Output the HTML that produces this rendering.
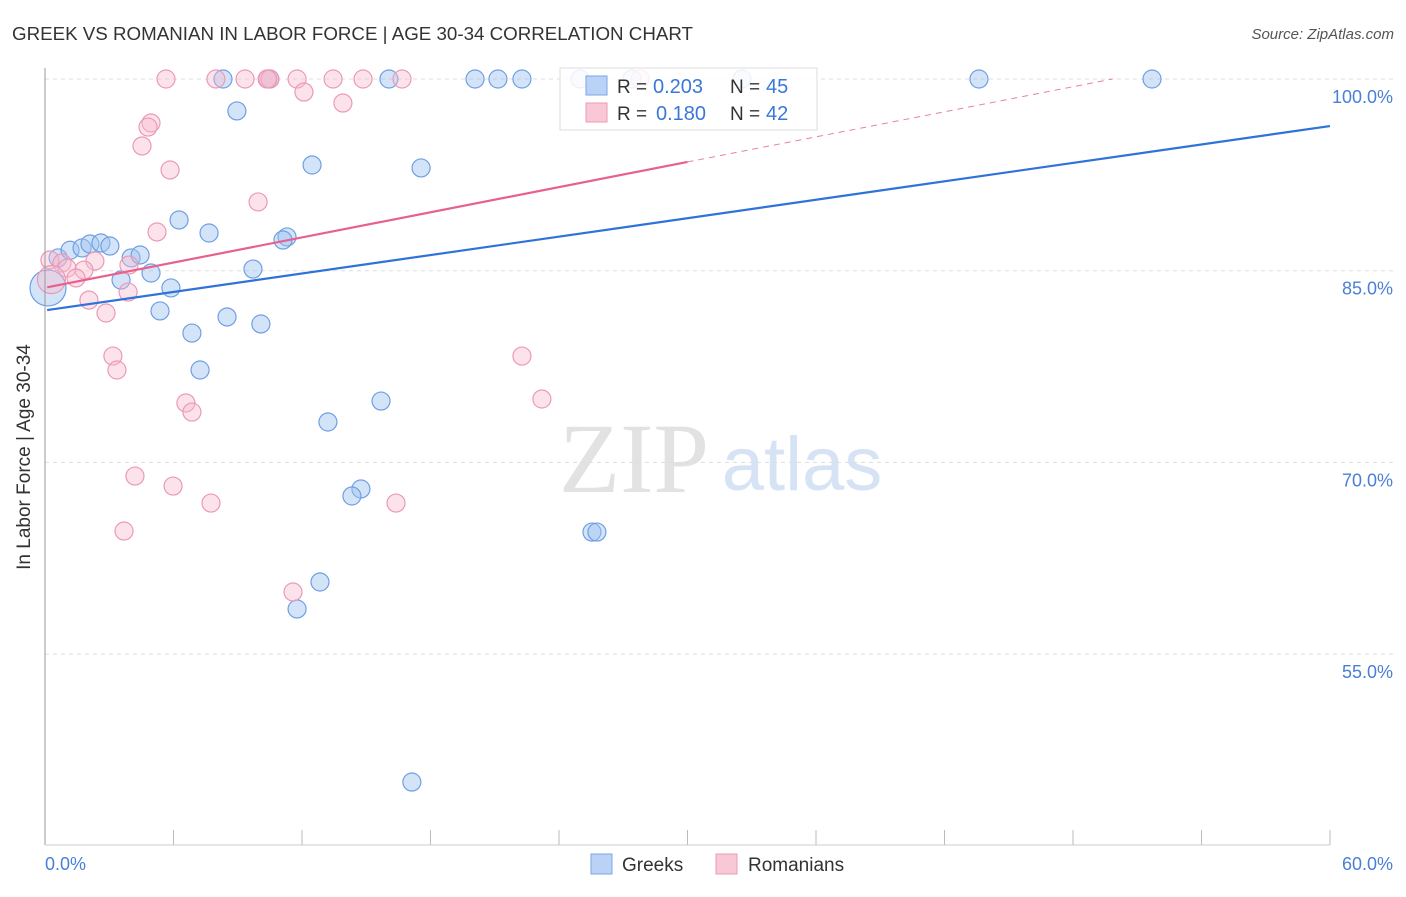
<!DOCTYPE html>
<html><head><meta charset="utf-8"><style>
body{margin:0;background:#fff;font-family:"Liberation Sans",sans-serif}
</style></head><body>
<svg id="c" width="1406" height="892" xmlns="http://www.w3.org/2000/svg" style="font-family:'Liberation Sans',sans-serif">
<text x="12" y="40" font-size="18" fill="#333" textLength="681" lengthAdjust="spacingAndGlyphs">GREEK VS ROMANIAN IN LABOR FORCE | AGE 30-34 CORRELATION CHART</text>
<text x="1394" y="39" font-size="15" fill="#555" text-anchor="end" font-style="italic">Source: ZipAtlas.com</text>
<text x="634" y="492" font-size="100" fill="#e2e2e2" font-family="Liberation Serif,serif" text-anchor="middle">ZIP</text>
<text x="802" y="490" font-size="76" fill="#d6e3f5" text-anchor="middle">atlas</text>
<g id="grid"></g><g id="pts"></g><g id="lines"></g>
<line x1="45" y1="68" x2="45" y2="845" stroke="#999"/>
<line x1="45" y1="845" x2="1330" y2="845" stroke="#ccc"/>
<text x="30" y="457" font-size="19" fill="#333" text-anchor="middle" transform="rotate(-90 30 457)">In Labor Force | Age 30-34</text>
<text x="45" y="870" font-size="18" fill="#4a7fd6">0.0%</text>
<text x="1393" y="870" font-size="18" fill="#4a7fd6" text-anchor="end">60.0%</text>
<g>
<rect x="560" y="68" width="257" height="62" fill="rgba(255,255,255,0.85)" stroke="#ddd"/>
<rect x="586" y="76" width="21" height="19" fill="#b9d2f5" stroke="#7aa6e6"/>
<text x="617" y="93" font-size="19" fill="#333">R = </text><text x="653" y="93" font-size="20" fill="#3a78d8">0.203</text>
<text x="730" y="93" font-size="19" fill="#333">N = </text><text x="766" y="93" font-size="20" fill="#3a78d8">45</text>
<rect x="586" y="103" width="21" height="19" fill="#f9c8d7" stroke="#ec9ab5"/>
<text x="617" y="120" font-size="19" fill="#333">R = </text><text x="656" y="120" font-size="20" fill="#3a78d8">0.180</text>
<text x="730" y="120" font-size="19" fill="#333">N = </text><text x="766" y="120" font-size="20" fill="#3a78d8">42</text>
</g>
<g>
<rect x="591" y="854" width="21" height="20" fill="#b9d2f5" stroke="#7aa6e6"/>
<text x="622" y="871" font-size="19" fill="#333">Greeks</text>
<rect x="716" y="854" width="21" height="20" fill="#f9c8d7" stroke="#ec9ab5"/>
<text x="748" y="871" font-size="19" fill="#333">Romanians</text>
</g>
</svg>
<script>
const yTicks=[100,85,70,55];
const xTickCount=10;
const greekX=[8.31,10.5,16.06,20.08,21.15,22.27,24.98,32.54,43.61,51.69,8.96,12.47,17.56,6.26,7.66,11.3,11.11,0.61,1.17,1.73,2.1,2.61,3.03,4.02,4.44,9.71,4.95,3.55,5.88,0.14,5.37,8.5,10.08,6.86,7.24,15.69,13.21,14.75,14.33,25.54,25.77,12.84,11.77,17.13,27.4];
const greekY=[100,100,100,100,100,100,100,100,100,100,97.5,93.27,93.04,88.97,87.95,87.64,87.4,86.0,86.6,86.78,87.09,87.17,86.93,86.0,86.23,85.13,84.82,84.27,83.65,83.65,81.85,81.38,80.83,80.12,77.23,74.8,73.16,67.92,67.37,64.55,64.55,60.64,58.53,44.99,100];
const romX=[5.65,7.98,9.34,10.37,10.5,11.77,13.45,14.85,16.67,27.78,12.09,13.91,4.95,4.81,4.53,5.84,9.95,5.23,0.23,0.79,1.03,2.33,1.82,1.45,3.92,3.88,2.05,2.85,22.27,3.17,3.36,23.2,6.58,6.86,4.2,5.98,7.75,16.39,3.69,11.58,0.3,10.4];
const romY=[100,100,100,100,100,100,100,100,100,100,98.98,98.12,96.56,96.24,94.76,92.88,90.38,88.03,85.84,85.6,85.2,85.76,85.05,84.43,85.44,83.33,82.7,81.69,78.32,78.32,77.23,74.96,74.65,73.94,68.93,68.15,66.82,66.82,64.63,59.86,84.3,100];
const greekTrend=[81.92,96.32];
const romTrend=[83.7,0.327];
const X=v=>45+v/60*1285, Y=v=>79+(100-v)/15*191.7;
const NS="http://www.w3.org/2000/svg";
function mk(t,a,p){const e=document.createElementNS(NS,t);for(const k in a)e.setAttribute(k,a[k]);p.appendChild(e);return e;}
const grid=document.getElementById('grid');
yTicks.forEach(t=>{
 const l=mk('line',{x1:45,x2:1393,y1:Y(t),y2:Y(t),stroke:'#ddd','stroke-dasharray':'4,4'},grid);
 
 
 const tx=mk('text',{x:1393,y:Y(t)+24,'font-size':18,fill:'#4a7fd6','text-anchor':'end'},grid);
 tx.textContent=t.toFixed(1)+'%';
 
 
});
for(let i=1;i<=xTickCount;i++){
 const l=mk('line',{x1:X(i*6),x2:X(i*6),y1:830,y2:845,stroke:'#bbb'},grid);
 
 
}
const pts=document.getElementById('pts');
greekX.forEach((v,i)=>{
 const r=(i==29)?18:9;
 const c=mk('circle',{cx:X(v),cy:Y(greekY[i]),r:r,fill:'rgba(160,195,240,0.45)',stroke:'#6f9fe3','stroke-width':1.2},pts);
 
 
});
romX.forEach((v,i)=>{
 const r=(i==40)?14:9;
 const c=mk('circle',{cx:X(v),cy:Y(romY[i]),r:r,fill:'rgba(248,185,205,0.4)',stroke:'#eb9ab6','stroke-width':1.2},pts);
 
 
});
const lines=document.getElementById('lines');
const gl=mk('line',{x1:X(0.1),y1:Y(greekTrend[0]),x2:X(60),y2:Y(greekTrend[1]),stroke:'#2f72d8','stroke-width':2.2},lines);


const rl=mk('line',{x1:X(0.1),y1:Y(romTrend[0]),x2:X(30),y2:Y(romTrend[0]+romTrend[1]*30),stroke:'#e8608e','stroke-width':2.2},lines);


const xe=(100-romTrend[0])/romTrend[1];
const rd=mk('line',{x1:X(30),y1:Y(romTrend[0]+romTrend[1]*30),x2:X(xe),y2:Y(100),stroke:'#e8809e','stroke-width':1,'stroke-dasharray':'6,5'},lines);


</script>
</body></html>
